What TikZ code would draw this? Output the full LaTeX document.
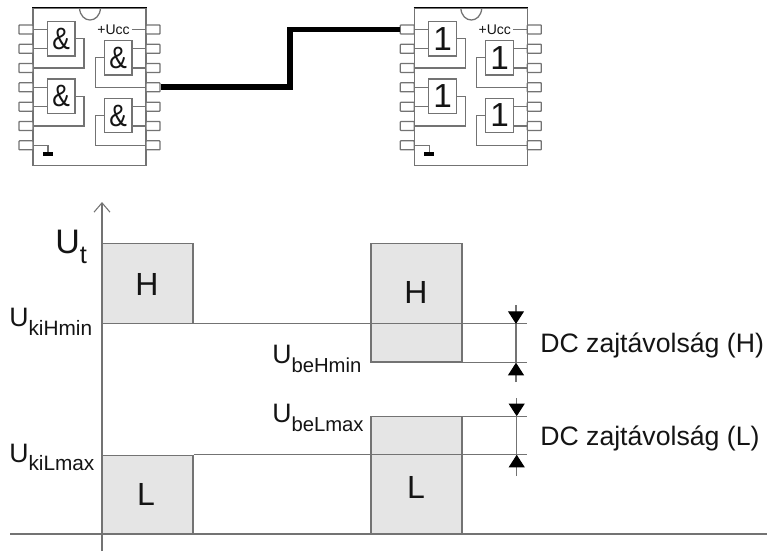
\documentclass[tikz,border=0pt]{standalone}
\usepackage{fontspec}
\setmainfont{Liberation Sans}
\usepackage{xcolor}
\usepackage{graphicx}
\usepackage{tikz}
\usetikzlibrary{arrows.meta}
\definecolor{linegray}{RGB}{115, 115, 115}
\definecolor{boxgray}{RGB}{229, 229, 229}
\definecolor{textblack}{RGB}{20, 20, 20}
\newcommand{\pxfont}[1]{\fontsize{#1}{#1}\selectfont}
\newcommand{\ulevel}[4]{{\pxfont{#1}U\raisebox{#3}{\pxfont{#2}#4}}}

\begin{document}
\begin{tikzpicture}[
  x=0.75pt, y=-0.75pt,
  wire/.style={draw=linegray, line width=0.95pt},
  chipbody/.style={rectangle, draw=linegray, fill=white, line width=1pt,
    minimum width=84.75pt, minimum height=118pt, inner sep=0pt},
  pin/.style={rectangle, rounded corners=0.5pt, draw=linegray, fill=white, line width=0.95pt,
    minimum width=10.5pt, minimum height=6.8pt, inner sep=0pt},
  gate/.style={rectangle, draw=linegray, fill=white, line width=0.95pt,
    minimum width=20.6pt, minimum height=25.9pt, inner sep=0pt,
    text=textblack},
  bus/.style={draw=black, line width=4.4pt},
  levelbox/.style={rectangle, draw=linegray, fill=boxgray, line width=0.95pt,
    minimum width=68.25pt, inner sep=0pt},
  level/.style={text=textblack, font=\pxfont{24}, inner sep=0pt},
  volt/.style={text=textblack, inner sep=0pt, anchor=base west},
  margin/.style={text=textblack, font=\pxfont{20}, inner sep=0pt, anchor=base west},
  levelline/.style={draw=linegray, line width=0.8pt},
  dimarrow/.style={draw=linegray, line width=0.8pt,
    -{Triangle[length=9.5pt, width=12pt, black]}},
]

\path[use as bounding box] (0, 0) rectangle (767, 551);

% chips
\foreach \ic/\dx/\sym in {A/0/{\pxfont{22}\scalebox{0.9}[1.05]{\&}}, B/381.3/{\pxfont{25}1}} {
  \begin{scope}[shift={(\dx, 0)}]
    \node[chipbody] (body\ic) at (89.5, 87) {};
    \draw[wire] (79.5, 8) .. controls (80.5, 24) and (99.5, 24) .. (100.5, 8);
    \draw[draw=black, line width=0.8pt] (body\ic.north west) -- (body\ic.north east);

    % pins
    \foreach \n/\y in {1/29.5, 2/48.8, 3/68, 4/87.3, 5/106.7, 6/126, 7/145.3} {
      \node[pin] (l\n\ic) at (26, \y) {};
      \node[pin] (r\n\ic) at (153, \y) {};
    }

    % gates
    \node[gate] (ga\ic) at (61.25, 38.75) {\sym};
    \node[gate] (gb\ic) at (61.25, 96.25) {\sym};
    \node[gate] (gc\ic) at (118.25, 57.75) {\sym};
    \node[gate] (gd\ic) at (118.25, 115.5) {\sym};

    % inputs
    \draw[wire] (l1\ic.east) -- (ga\ic.west |- l1\ic);
    \draw[wire] (l2\ic.east) -- (ga\ic.west |- l2\ic);
    \draw[wire] (l4\ic.east) -- (gb\ic.west |- l4\ic);
    \draw[wire] (l5\ic.east) -- (gb\ic.west |- l5\ic);
    \draw[wire] (r2\ic.west) -- (gc\ic.east |- r2\ic);
    \draw[wire] (r3\ic.west) -- (gc\ic.east |- r3\ic);
    \draw[wire] (r5\ic.west) -- (gd\ic.east |- r5\ic);
    \draw[wire] (r6\ic.west) -- (gd\ic.east |- r6\ic);

    % outputs
    \coordinate (ka\ic) at (84, 60);
    \coordinate (kb\ic) at (84, 110);
    \coordinate (kc\ic) at (95.3, 70);
    \coordinate (kd\ic) at (95.3, 130);
    \draw[wire] (ga\ic.east) -| (ka\ic) |- (l3\ic.east);
    \draw[wire] (gb\ic.east) -| (kb\ic) |- (l6\ic.east);
    \draw[wire] (gc\ic.west) -| (kc\ic) |- (r4\ic.west);
    \draw[wire] (gd\ic.west) -| (kd\ic) |- (r7\ic.west);

    % supply
    \node[text=textblack, font=\pxfont{10.5}, inner sep=1.5pt] (ucc\ic) at (113.5, 30) {+Ucc};
    \draw[wire] (ucc\ic.east |- r1\ic) -- (r1\ic.west);
    \node[rectangle, fill=black, minimum width=7.5pt, minimum height=3pt, inner sep=0pt] (gnd\ic) at (48, 154) {};
    \draw[wire] (l7\ic.east) -| (gnd\ic.north);
  \end{scope}
}

% link between the chips
\coordinate (bend) at (290, 60);
\draw[bus] (r4A.east) -| (bend) |- (l1B.west);

% level boxes
\node[levelbox, minimum height=60pt] (hiout) at (147.5, 283.3) {};
\node[levelbox, minimum height=59pt] (loout) at (147.5, 494.7) {};
\node[levelbox, minimum height=89pt] (hiin) at (416.5, 302.7) {};
\node[levelbox, minimum height=88pt] (loin) at (416.5, 475.5) {};

\node[level] (hioutT) at (147, 284) {H};
\node[level] (looutT) at (146, 494) {L};
\node[level] (hiinT) at (416, 292) {H};
\node[level] (loinT) at (416, 487) {L};

% axes
\coordinate (axbot) at (102, 551);
\coordinate (axtop) at (102, 202);
\coordinate (axleft) at (10, 534);
\coordinate (axright) at (767, 534);
\draw[levelline, -{Straight Barb[length=7pt, width=12pt]}] (axbot) -- (axtop);
\draw[levelline] (axleft) -- (axright);

% level lines
\coordinate (lineend) at (527, 0);
\draw[levelline] (hiout.south east) -- (lineend |- hiout.south);
\draw[levelline] (hiin.south east) -- (lineend |- hiin.south);
\draw[levelline] (loin.north east) -- (lineend |- loin.north);
\draw[levelline] (loout.north east) -- (lineend |- loout.north);

% noise margins
\coordinate (dhtop) at (516, 305);
\coordinate (dhbot) at (516, 382);
\draw[levelline] (dhtop |- hiout.south) -- (dhtop |- hiin.south);
\draw[dimarrow] (dhtop) -- (dhtop |- hiout.south);
\draw[dimarrow] (dhbot) -- (dhbot |- hiin.south);

\coordinate (dltop) at (516.7, 398);
\coordinate (dlbot) at (516.7, 476);
\draw[levelline] (dltop |- loin.north) -- (dltop |- loout.north);
\draw[dimarrow] (dltop) -- (dltop |- loin.north);
\draw[dimarrow] (dlbot) -- (dlbot |- loout.north);

% labels
\node[volt] (ut) at (55, 253.5) {\ulevel{25.5}{19}{-7.5pt}{t}};
\node[volt] (ukih) at (9, 326) {\ulevel{20}{15.6}{-7pt}{kiHmin}};
\node[volt] (ukil) at (9, 462) {\ulevel{20}{15.6}{-6pt}{kiLmax}};
\node[volt] (ubeh) at (272, 363) {\ulevel{20}{15.2}{-7pt}{beHmin}};
\node[volt] (ubel) at (272, 422) {\ulevel{20}{15.2}{-7pt}{beLmax}};
\node[margin] (dch) at (540, 352.7) {DC zajtávolság (H)};
\node[margin] (dcl) at (540, 445) {DC zajtávolság (L)};

\end{tikzpicture}
\end{document}
